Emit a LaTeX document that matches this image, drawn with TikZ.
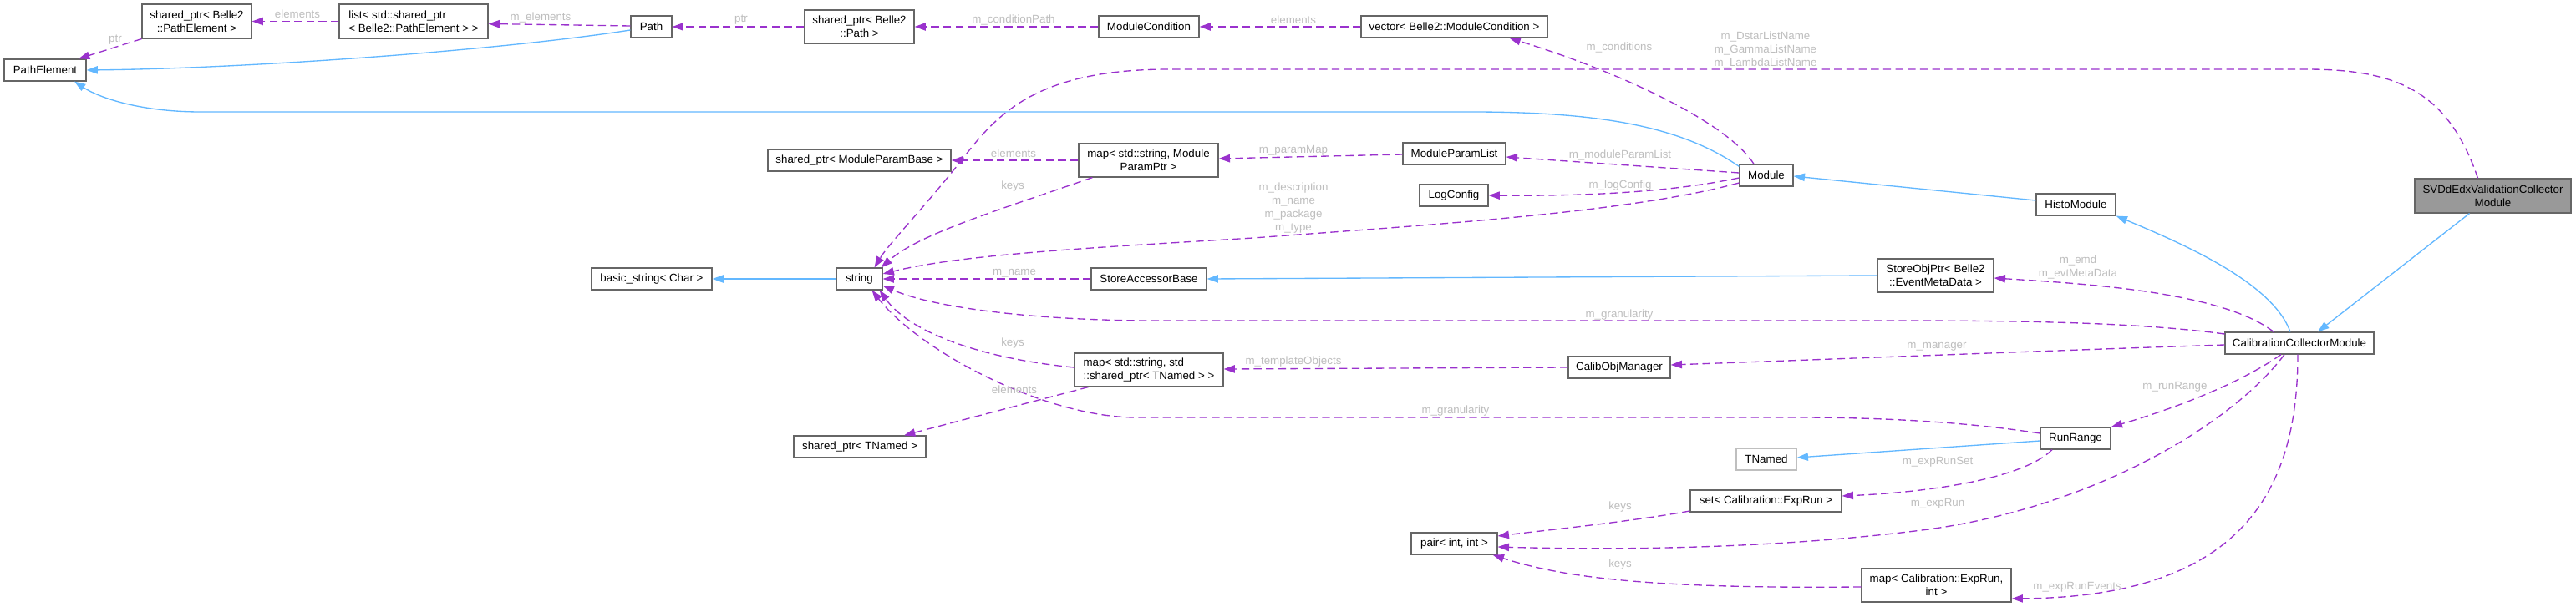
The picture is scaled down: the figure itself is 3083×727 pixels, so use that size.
\documentclass[tikz,border=0pt]{standalone}
\usepackage{fontspec}
\setmainfont{Liberation Sans}
\usetikzlibrary{arrows.meta,calc}
\definecolor{edgeblue}{HTML}{63B8FF}
\definecolor{edgepurple}{HTML}{9A32CD}
\definecolor{boxgray}{HTML}{666666}
\definecolor{labelgray}{HTML}{BEBEBE}
\definecolor{fillgray}{HTML}{999999}
\definecolor{extgray}{HTML}{BFBFBF}
\begin{document}
\begin{tikzpicture}[x=0.75pt,y=-0.75pt,
  box/.style={draw=boxgray,line width=0.9pt,fill=white,inner sep=0pt,align=center,font=\fontsize{10}{12}\selectfont},
  boxl/.style={box,align=left},
  inh/.style={draw=edgeblue,line width=1pt,-{Triangle[length=10pt,width=7pt]}},
  dep/.style={draw=edgepurple,line width=1pt,dash pattern=on 7pt off 4pt,-{Triangle[length=10pt,width=7pt]}},
  lbl/.style={text=labelgray,inner sep=0pt,align=center,font=\fontsize{10}{12}\selectfont}]
\fill[white] (0,0) rectangle (3083,727);
\useasboundingbox (0,0) rectangle (3083,727);

% nodes
\node[box,minimum width=73.5pt,minimum height=19.5pt] (pe) at (54,84) {PathElement};
\node[box,minimum width=98.25pt,minimum height=30.75pt] (spe) at (235.5,25.5) {shared\_ptr< Belle2\\::PathElement >};
\node[boxl,minimum width=133.5pt,minimum height=30.75pt] (lst) at (495,25.5) {list< std::shared\_ptr\\< Belle2::PathElement > >};
\node[box,minimum width=36.75pt,minimum height=19.5pt] (path) at (779.5,32) {Path};
\node[box,minimum width=98.25pt,minimum height=30pt] (spp) at (1028.5,32) {shared\_ptr< Belle2\\::Path >};
\node[box,minimum width=90pt,minimum height=19.5pt] (mc) at (1375,32) {ModuleCondition};
\node[box,minimum width=167.25pt,minimum height=19.5pt] (vmc) at (1740.5,32) {vector< Belle2::ModuleCondition >};
\node[box,minimum width=164.25pt,minimum height=19.5pt] (spmb) at (1028.5,192) {shared\_ptr< ModuleParamBase >};
\node[box,minimum width=125.25pt,minimum height=30pt] (mpp) at (1374.5,192) {map< std::string, Module\\ParamPtr >};
\node[box,minimum width=92.25pt,minimum height=19.5pt] (mpl) at (1740.5,184) {ModuleParamList};
\node[box,minimum width=61.5pt,minimum height=19.5pt] (lc) at (1740,234) {LogConfig};
\node[box,minimum width=48pt,minimum height=19.5pt] (mod) at (2114,210) {Module};
\node[box,minimum width=71.25pt,minimum height=19.5pt] (hm) at (2484.5,245) {HistoModule};
\node[box,fill=fillgray,minimum width=140.25pt,minimum height=30.75pt] (svd) at (2983.5,234.5) {SVDdEdxValidationCollector\\Module};
\node[box,minimum width=108pt,minimum height=19.5pt] (bs) at (780,334) {basic\_string< Char >};
\node[box,minimum width=41.25pt,minimum height=19.5pt] (str) at (1028.5,334) {string};
\node[box,minimum width=103.5pt,minimum height=19.5pt] (sab) at (1375,334) {StoreAccessorBase};
\node[box,minimum width=104.25pt,minimum height=30pt] (sop) at (2316.5,330) {StoreObjPtr< Belle2\\::EventMetaData >};
\node[box,minimum width=133.5pt,minimum height=19.5pt] (ccm) at (2752,411) {CalibrationCollectorModule};
\node[boxl,minimum width=133.5pt,minimum height=30pt] (mtn) at (1375,443) {map< std::string, std\\::shared\_ptr< TNamed > >};
\node[box,minimum width=91.5pt,minimum height=19.5pt] (com) at (1938,440) {CalibObjManager};
\node[box,minimum width=118.5pt,minimum height=19.5pt] (stn) at (1029,535) {shared\_ptr< TNamed >};
\node[box,minimum width=63pt,minimum height=19.5pt] (rr) at (2484,525) {RunRange};
\node[box,draw=extgray,minimum width=54pt,minimum height=19.5pt] (tn) at (2114,550) {TNamed};
\node[box,minimum width=135.75pt,minimum height=19.5pt] (ser) at (2113.5,600) {set< Calibration::ExpRun >};
\node[box,minimum width=77.25pt,minimum height=19.5pt] (pr) at (1740.5,651) {pair< int, int >};
\node[box,minimum width=134.25pt,minimum height=30pt] (mer) at (2317.5,701) {map< Calibration::ExpRun,\\int >};

% inheritance edges
\draw[inh] ($(path.west)+(0,4)$) .. controls (600,60) and (300,82) .. (pe.east);
\draw[inh] ($(mod.north west)+(0,3)$) .. controls (2010,150) and (1910,134) .. (1760,134) -- (240,134) .. controls (170,134) and (120,118) .. ($(pe.south)+(35,0)$);
\draw[inh] ($(hm.west)+(0,-5)$) -- ($(mod.east)+(0,1)$);
\draw[inh] ($(ccm.north)+(-11,0)$) .. controls (2720,340) and (2620,295) .. (hm.south east);
\draw[inh] ($(svd.south)+(-28,0)$) -- ($(ccm.north)+(22,0)$);
\draw[inh] (str.west) -- (bs.east);
\draw[inh] (sop.west) -- (sab.east);
\draw[inh] ($(rr.west)+(0,3)$) -- ($(tn.east)+(0,-2)$);

% usage edges
\draw[dep] (spe.south west) -- ($(pe.north)+(40,0)$);
\draw[dep] (lst.west) -- (spe.east);
\draw[dep] ($(path.west)+(0,-1)$) -- ($(lst.east)+(0,3)$);
\draw[dep] (spp.west) -- (path.east);
\draw[dep] (mc.west) -- (spp.east);
\draw[dep] (vmc.west) -- (mc.east);
\draw[dep] ($(mod.north)+(-15,0)$) .. controls (2070,150) and (1950,90) .. ($(vmc.south)+(66,0)$);
\draw[dep] ($(svd.north)+(-18,0)$) .. controls (2930,110) and (2870,83) .. (2760,83) -- (1400,83) .. controls (1250,83) and (1200,130) .. (1160,180) .. controls (1110,245) and (1065,290) .. ($(str.north)+(18,0)$);
\draw[dep] (mpp.west) -- (spmb.east);
\draw[dep] ($(mpp.south west)+(17,0)$) .. controls (1200,250) and (1100,280) .. ($(str.north east)+(-2,0)$);
\draw[dep] ($(mpl.west)+(0,1)$) -- ($(mpp.east)+(0,-2)$);
\draw[dep] ($(mod.west)+(0,-3)$) -- ($(mpl.east)+(0,4)$);
\draw[dep] ($(mod.west)+(0,3)$) .. controls (2000,230) and (1900,235) .. (lc.east);
\draw[dep] ($(mod.west)+(0,9)$) .. controls (1950,255) and (1700,270) .. (1500,285) .. controls (1300,297) and (1150,305) .. ($(str.east)+(0,-6)$);
\draw[dep] (sab.west) -- (str.east);
\draw[dep] ($(ccm.north)+(-31,0)$) .. controls (2660,350) and (2500,340) .. ($(sop.east)+(0,3)$);
\draw[dep] ($(ccm.west)+(0,-11)$) .. controls (2550,385) and (2400,384) .. (2250,384) -- (1380,384) .. controls (1250,384) and (1120,370) .. ($(str.east)+(0,8)$);
\draw[dep] ($(mtn.west)+(0,-3)$) .. controls (1180,430) and (1090,400) .. ($(str.south east)+(-4,0)$);
\draw[dep] ($(mtn.south west)+(17,0)$) -- ($(stn.north)+(53,0)$);
\draw[dep] (com.west) -- ($(mtn.east)+(0,-1)$);
\draw[dep] ($(ccm.west)+(0,2)$) .. controls (2450,420) and (2200,430) .. ($(com.east)+(0,-3)$);
\draw[dep] ($(rr.west)+(0,-6)$) .. controls (2350,505) and (2250,500) .. (2150,500) -- (1360,500) .. controls (1250,500) and (1100,420) .. ($(str.south)+(15,0)$);
\draw[dep] ($(ccm.south)+(-22,0)$) .. controls (2680,460) and (2600,490) .. (rr.north east);
\draw[dep] ($(rr.south)+(-28,0)$) .. controls (2420,575) and (2300,590) .. ($(ser.east)+(0,-6)$);
\draw[dep] ($(ser.west)+(0,12)$) .. controls (1950,625) and (1850,635) .. ($(pr.east)+(0,-9)$);
\draw[dep] ($(ccm.south)+(-18,0)$) .. controls (2670,510) and (2500,610) .. (2300,635) .. controls (2100,660) and (1900,658) .. ($(pr.east)+(0,4)$);
\draw[dep] ($(mer.west)+(0,2)$) .. controls (2000,705) and (1880,695) .. ($(pr.south east)+(-6,0)$);
\draw[dep] ($(ccm.south)+(-2,0)$) .. controls (2750,580) and (2690,715) .. ($(mer.east)+(0,16)$);

% labels
\node[lbl] (l9) at (138,48) {ptr};
\node[lbl] (l10) at (356,17) {elements};
\node[lbl] (l11) at (647,21) {m\_elements};
\node[lbl] (l12) at (887,24) {ptr};
\node[lbl] (l13) at (1213,24) {m\_conditionPath};
\node[lbl] (l14) at (1548,24) {elements};
\node[lbl] (l15) at (1938,57) {m\_conditions};
\node[lbl] (l16) at (2113,60) {m\_DstarListName\\m\_GammaListName\\m\_LambdaListName};
\node[lbl] (l17) at (1213,184) {elements};
\node[lbl] (l18) at (1212,223) {keys};
\node[lbl] (l19) at (1548,180) {m\_paramMap};
\node[lbl] (l20) at (1939,186) {m\_moduleParamList};
\node[lbl] (l21) at (1939,222) {m\_logConfig};
\node[lbl] (l22) at (1548,249) {m\_description\\m\_name\\m\_package\\m\_type};
\node[lbl] (l23) at (1214,327) {m\_name};
\node[lbl] (l24) at (2487,320) {m\_emd\\m\_evtMetaData};
\node[lbl] (l25) at (1938,377) {m\_granularity};
\node[lbl] (l26) at (1212,411) {keys};
\node[lbl] (l27) at (1214,467) {elements};
\node[lbl] (l28) at (1548,433) {m\_templateObjects};
\node[lbl] (l29) at (2318,415) {m\_manager};
\node[lbl] (l30) at (1742,492) {m\_granularity};
\node[lbl] (l31) at (2603,463) {m\_runRange};
\node[lbl] (l32) at (2319,553) {m\_expRunSet};
\node[lbl] (l33) at (1939,607) {keys};
\node[lbl] (l34) at (2319,603) {m\_expRun};
\node[lbl] (l35) at (1939,676) {keys};
\node[lbl] (l36) at (2486,703) {m\_expRunEvents};
\end{tikzpicture}
\end{document}
